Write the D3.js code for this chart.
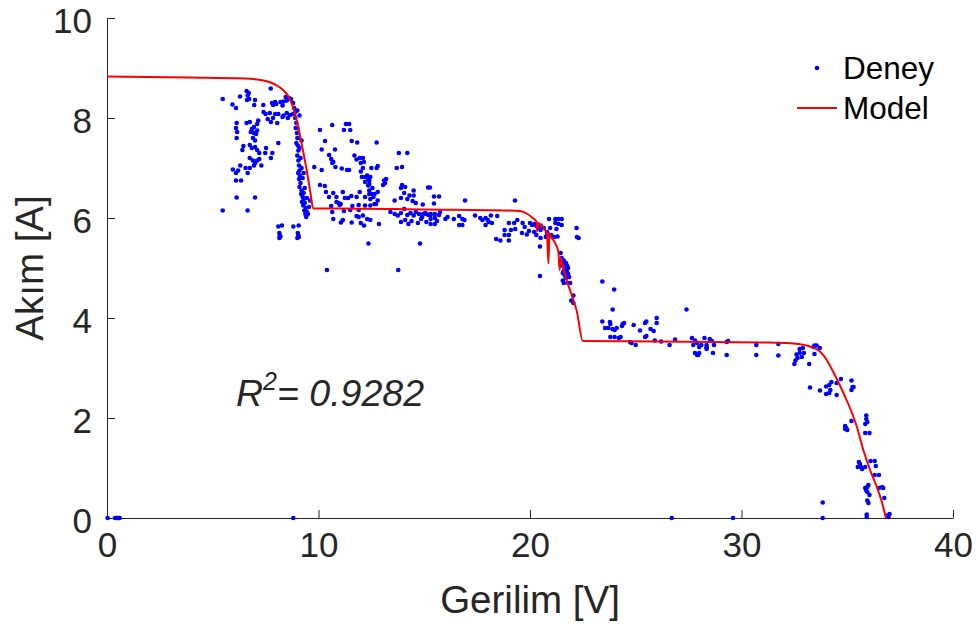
<!DOCTYPE html>
<html>
<head>
<meta charset="utf-8">
<script src="https://cdn.jsdelivr.net/npm/d3@7"></script>
<style>
  html, body { margin: 0; padding: 0; background: #ffffff; }
  svg { display: block; font-family: "Liberation Sans", Arial, Helvetica, sans-serif; }
</style>
</head>
<body>
<svg id="chart" width="976" height="633"></svg>
<script>
// ---- data ----
const xTicks = [0, 10, 20, 30, 40];
const yTicks = [0, 2, 4, 6, 8, 10];
const xLabel = "Gerilim [V]";
const yLabel = "Akım [A]";
const legendLabels = ["Deney", "Model"];
const r2Value = "0.9282";

// measured points (Gerilim V, Akım A)
const deneyZero = [[0.03,0],[0.38,0],[0.45,0],[0.5,0],[0.55,0],[0.6,0],[8.81,0],[26.7,0],[29.6,0],[33.84,0]];
const deneyStep1 = [
  [5.47,8.38],[5.93,8.27],[6.10,8.20],[6.29,8.43],[6.6,8.54],[6.7,8.5],[6.65,8.45],[6.72,8.38],[6.62,8.36],[7.0,8.36],
  [6.96,8.26],[7.39,8.26],[7.74,8.59],[7.8,8.3],[7.95,8.32],[7.85,8.26],[8.0,8.28],[8.2,8.32],[8.35,8.33],[8.5,8.35],
  [8.6,8.4],[8.45,8.42],[8.7,8.38],[8.3,8.25],
  [7.4,8.12],[7.5,8.08],[7.7,8.1],[7.95,8.08],[8.1,8.08],[8.35,8.05],[8.5,8.1],[8.65,8.06],[8.8,8.08],[8.9,8.12],
  [7.6,7.98],[7.75,7.92],[7.85,8.0],[8.05,7.9],[8.3,8.02],[8.55,8.0],
  [6.13,7.9],[6.1,7.8],[6.15,7.72],[6.13,7.6],
  [6.6,7.9],[6.75,7.92],[6.85,7.78],[6.95,7.82],[7.1,7.88],[7.15,7.95],[6.95,7.7],[7.1,7.75],[7.05,7.68],[6.8,7.72],
  [6.9,7.6],[7.0,7.55],
  [6.45,7.44],[6.4,7.36],[6.75,7.46],[6.85,7.4],[7.0,7.42],[7.1,7.36],[7.2,7.3],[7.52,7.4],[7.48,7.3],[7.75,7.2],
  [7.82,7.3],[8.1,7.5],
  [6.75,7.2],[6.9,7.15],[7.1,7.15],[7.2,7.18],
  [6.3,7.05],[6.2,6.95],[6.55,7.0],[6.65,6.9],[6.75,7.0],[6.95,7.05],[7.0,7.1],[7.3,7.05],
  [5.95,6.97],[6.1,6.9],
  [6.10,6.75],[6.34,6.75],[6.13,6.41],[7.0,6.41],[5.47,6.15],[6.65,6.15],
  [8.85,8.2],[8.9,8.0],[8.95,7.9],[8.92,7.8],[8.98,7.7],[9.0,7.6],[8.95,7.5],[9.02,7.45],[9.05,7.35],[9.0,7.25],
  [9.05,7.15],[9.08,7.05],[9.1,6.95],[9.04,6.9],[9.12,6.85],[9.08,6.78],[9.15,6.7],[9.1,6.62],[9.2,6.55],[9.18,6.48],
  [9.25,6.42],[9.3,6.38],[9.22,6.32],[9.35,6.3],[9.28,6.25],[9.4,6.2],[9.33,6.15],[9.45,6.12],[9.38,6.08],[9.5,6.08],
  [9.42,6.02],[9.55,6.22],[9.6,6.35],[9.3,6.5],[9.35,6.6],[9.25,6.8],[9.2,7.0],[9.15,7.2],[9.1,7.4],[9.05,7.6],
  [9.0,7.8],[9.1,8.05],[9.0,8.15],[8.8,8.3],[9.2,7.55],[9.3,6.9],[9.45,6.4],
  [8.1,5.83],[8.27,5.85],[8.15,5.7],[8.17,5.65],[8.15,5.6],[8.2,5.63],[8.81,5.83],[9.06,5.85],[9.02,5.7],[9.05,5.65],
  [9.0,5.6],[9.07,5.62]
];
const deneyStep2 = [
  [10.07,7.76],[10.65,7.86],[11.2,7.76],[11.3,7.88],[11.45,7.88],[11.5,7.76],[10.31,7.54],[11.57,7.54],[11.83,7.51],[12.75,7.51],
  [10.15,7.37],[10.78,7.37],[10.5,7.26],[10.6,7.18],[10.65,7.1],[10.8,7.02],[10.7,7.12],
  [9.8,7.02],[10.15,6.96],[11.1,6.99],[11.35,6.96],[11.45,6.96],
  [11.7,7.25],[11.8,7.17],[11.95,7.2],[12.1,7.2],[12.0,7.1],[12.15,7.12],[12.1,7.0],[12.0,6.93],
  [12.5,7.0],[12.75,7.0],[12.8,7.04],
  [12.3,6.85],[12.35,6.78],[12.2,6.82],[12.05,6.82],[12.4,6.75],[12.45,6.82],[12.2,6.72],[12.35,6.65],[12.4,6.68],[12.55,6.6],
  [12.4,6.55],[12.5,6.48],[12.65,6.48],[12.8,6.52],[13.1,6.75],[13.05,6.66],[13.2,6.78],[13.15,6.7],
  [13.7,7.0],[13.95,7.02],[14.2,7.3],[13.8,7.3],
  [13.95,6.66],[13.9,6.6],[14.1,6.62],[14.5,6.55],[14.3,6.45],[14.5,6.45],[15.18,6.61],
  [10.07,6.66],[10.3,6.64],
  [10.7,6.5],[10.85,6.42],[11.15,6.52],[10.35,6.52],[10.5,6.42],[10.85,6.32],[10.95,6.3],[11.25,6.4],[11.4,6.4],
  [11.55,6.44],[11.8,6.42],[11.95,6.52],[12.2,6.42],[12.4,6.48],[12.45,6.38],[12.6,6.42],[12.8,6.35],[12.72,6.28],
  [10.6,6.24],[11.0,6.26],[11.05,6.28],[11.6,6.24],[11.9,6.26],[12.2,6.25],[12.45,6.25],[12.65,6.28],
  [10.65,6.12],[11.2,6.14],[11.5,6.16],[11.9,6.16],
  [10.7,5.98],[11.15,5.96],[11.8,6.04],[11.9,6.02],[12.1,6.05],[12.3,5.98],[12.45,5.96],
  [11.06,5.91],[11.57,5.91],[12.0,5.9],[12.15,5.85],[12.86,5.88],
  [12.36,5.49],[14.8,5.49],[10.4,4.96],[13.77,4.96],
  [13.4,6.12],[13.6,6.08],[13.75,6.05],[13.9,6.1],[14.05,6.18],[14.2,6.06],[14.35,6.1],[14.5,6.05],[14.6,6.12],[14.75,6.08],
  [14.9,6.02],[15.05,6.1],[15.2,6.06],[15.3,6.08],[14.1,5.96],[14.4,5.94],[14.7,5.9],[14.85,5.98],[15.1,5.92],[13.9,5.92],
  [14.25,5.88],[13.6,6.35],[13.9,6.4],[14.2,6.38],[14.45,6.34],[14.6,6.3],[14.05,6.5],
  [15.27,6.61],[15.46,6.43],[15.7,6.43],[15.46,6.29],[14.93,6.27],[16.93,6.35],[19.29,6.35],
  [14.95,6.08],[15.1,6.08],[15.3,6.06],[15.5,6.08],[15.7,6.06],[15.75,6.12],
  [15.3,5.98],[15.5,6.0],[15.6,5.94],[15.5,5.88],[15.3,5.88],[16.0,5.98],[16.1,6.02],[16.4,5.98],
  [16.65,6.04],[16.8,5.98],[16.9,5.96],[16.65,5.86],[16.8,5.86],
  [17.4,6.05],[17.65,6.0],[17.75,5.96],[17.9,6.0],[18.0,5.96],[18.05,5.92],[18.2,5.9],[18.15,6.05],[18.45,6.04],[17.9,5.86],
  [19.0,5.9],[19.25,5.9],[19.4,5.96],[19.1,5.76],[19.3,5.78],[18.8,5.76],[18.8,5.66],[19.0,5.66],[19.0,5.55],[18.6,5.55],[18.4,5.58],
  [19.65,5.9],[19.75,5.82],[20.0,5.9],[20.1,5.86],[20.2,5.88],[20.3,5.84],[20.4,5.8],[20.5,5.76],[20.2,5.72],[20.3,5.66],
  [19.95,5.74],[19.85,5.67],[19.62,5.7],[20.5,5.85],[20.65,5.8],[20.8,5.72],[20.75,5.62],
  [20.47,5.43],[20.47,4.84],
  [20.9,5.98],[21.2,5.98],[21.35,5.98],[21.5,5.98],[21.2,5.9],[21.35,5.88],[21.5,5.86],[21.25,5.78],[20.95,5.8],
  [20.8,5.65],[21.0,5.66],[21.15,5.62],[21.3,5.63],[20.5,5.6],
  [22.2,5.8],[22.22,5.62],[22.3,5.6],
  [21.45,5.3],[21.5,5.2],[21.6,5.15],[21.65,5.08],[21.7,5.1],[21.75,5.05],[21.7,5.0],[21.6,4.95],[21.55,4.9],[21.75,4.92],
  [21.8,4.88],[21.85,4.82],[21.7,4.8],[21.55,4.75],[21.6,4.7],[21.8,4.7],[21.9,4.7],[22.05,4.45],[21.95,4.35],[22.05,4.3],
  [21.5,5.05],[21.65,4.85],[21.8,5.0]
];
const deneyStep3 = [
  [23.42,4.73],[23.98,4.57],[23.91,4.17],[23.42,3.93],[23.78,3.92],[23.8,3.88],[23.9,3.78],[23.7,3.8],[23.55,3.8],[24.0,3.76],
  [24.1,3.8],[24.35,3.84],[24.45,3.9],[24.38,3.88],
  [23.8,3.62],[24.0,3.62],[24.2,3.6],[24.28,3.62],[24.9,3.86],[25.2,3.75],[25.44,3.9],[25.5,3.93],[25.7,3.78],[25.85,3.74],
  [25.99,4.0],[25.99,3.9],[25.44,3.62],[25.5,3.64],
  [24.73,3.52],[24.8,3.5],[25.0,3.46],[25.9,3.55],[26.2,3.53],[26.6,3.46],[26.86,3.57],[27.4,4.17],
  [27.66,3.6],[27.8,3.55],[27.72,3.46],[27.9,3.5],[27.8,3.3],[27.95,3.26],[28.0,3.3],[27.9,3.26],
  [28.25,3.6],[28.35,3.46],[28.35,3.42],[28.35,3.4],[28.35,3.38],[28.1,3.46],[28.0,3.42],
  [28.6,3.54],[28.7,3.46],[28.65,3.3],[28.5,3.58],
  [29.3,3.52],[29.37,3.54],[29.3,3.26],
  [30.7,3.46],[30.7,3.26],[31.74,3.48],[31.74,3.25],
  [32.5,3.08],[32.55,3.15],[32.65,3.2],[32.6,3.27],[32.75,3.3],[32.75,3.38],[32.85,3.22],[32.9,3.4],[32.95,3.3],[33.2,3.08],
  [33.4,3.42],[33.45,3.45],[33.55,3.45],[33.45,3.28],[33.7,3.4],
  [33.24,2.61],[33.71,2.55],[34.0,2.63],[34.15,2.66],[34.25,2.72],[34.2,2.56],[34.15,2.5],[34.0,2.48],[34.5,2.46],[34.5,2.7],[34.7,2.78],
  [35.2,2.75],[35.25,2.62],[35.2,2.56],[35.3,2.62],
  [34.9,1.84],[34.95,1.8],[35.0,1.76],[34.9,1.78],[35.2,1.94],
  [35.9,2.05],[35.9,1.98],[35.95,1.92],[35.85,1.88],[36.05,1.7],[35.85,1.7],
  [35.55,1.12],[35.6,1.08],[35.65,1.02],[35.5,1.02],[35.7,0.98],[35.85,1.02],[36.1,1.14],[36.3,1.14],[36.35,1.04],[36.3,0.86],[36.5,0.86],
  [35.85,0.6],[35.9,0.55],[35.95,0.62],[36.0,0.66],[35.95,0.52],[36.05,0.46],[35.95,0.35],[36.0,0.3],[36.5,0.6],[36.65,0.62],
  [36.7,0.6],[36.75,0.4],
  [33.84,0.31],[35.92,0.02],[35.92,0.07],[36.88,0.05],[37.0,0.08],[36.95,0.02]
];

// fitted model curve (Gerilim V, Akım A)
const modelV = [0,3.9,6.5,7.1,7.5,7.8,8.1,8.35,8.55,8.73,8.97,9.2,9.44,9.62,9.75,11,15,19.0,19.53,19.84,20.16,20.3,20.34,20.38,20.63,20.8,20.87,20.92,20.97,21.1,21.34,21.4,21.45,21.5,21.65,21.73,21.89,22.05,22.2,22.5,26,31,32.0,32.7,33.24,33.71,34.03,34.34,34.6,34.85,35.13,35.45,35.76,36.08,36.39,36.63,36.83];
const modelA = [8.83,8.81,8.79,8.77,8.74,8.7,8.63,8.55,8.45,8.29,7.96,7.49,6.96,6.5,6.19,6.19,6.17,6.15,6.14,6.09,5.99,5.93,5.73,5.9,5.79,5.7,5.09,5.7,5.64,5.56,5.33,4.96,5.2,5.13,4.89,4.76,4.56,4.36,4.16,3.54,3.53,3.51,3.5,3.48,3.43,3.33,3.16,2.92,2.7,2.47,2.2,1.83,1.36,0.96,0.63,0.33,0.0];

// ---- drawing ----
const svg = d3.select("#chart");
const margin = {left: 107, right: 23, top: 18, bottom: 115};
const W = 976, H = 633;
const x = d3.scaleLinear().domain([0, 40]).range([margin.left, W - margin.right]);
const y = d3.scaleLinear().domain([0, 10]).range([H - margin.bottom, margin.top]);
const axisColor = "#262626";
const tickFont = 35;

// axes
const xAxis = d3.axisBottom(x).tickValues(xTicks).tickSizeInner(-8).tickSizeOuter(0).tickPadding(14);
const yAxis = d3.axisLeft(y).tickValues(yTicks).tickSizeInner(-8).tickSizeOuter(0).tickPadding(15);

const gx = svg.append("g").attr("transform", `translate(0,${y(0)})`).call(xAxis);
const gy = svg.append("g").attr("transform", `translate(${x(0)},0)`).call(yAxis);
[gx, gy].forEach(g => {
  g.select(".domain").attr("stroke", axisColor).attr("stroke-width", 1);
  g.selectAll(".tick line").attr("stroke", axisColor).attr("stroke-width", 1);
  g.selectAll(".tick text").attr("fill", axisColor).attr("font-size", tickFont)
    .attr("font-family", "Liberation Sans, Arial, sans-serif");
});
gx.selectAll(".tick text").attr("dy", "0.71em");
gy.selectAll(".tick text").attr("dy", "0.4em");

// axis labels
svg.append("text").attr("x", (x(0) + x(40)) / 2).attr("y", 613)
  .attr("text-anchor", "middle").attr("font-size", 38.5).attr("fill", axisColor).text(xLabel);
svg.append("text").attr("transform", `translate(43,${(y(0) + y(10)) / 2}) rotate(-90)`)
  .attr("text-anchor", "middle").attr("font-size", 38.5).attr("fill", axisColor).text(yLabel);

// data points
const allDeney = deneyZero.concat(deneyStep1, deneyStep2, deneyStep3);
svg.append("g").selectAll("circle").data(allDeney).join("circle")
  .attr("cx", d => x(d[0])).attr("cy", d => y(d[1])).attr("r", 2.3).attr("fill", "#0000ff");

// model line
const modelPts = modelV.map((v, i) => [v, modelA[i]]);
svg.append("path").datum(modelPts)
  .attr("d", d3.line().x(d => x(d[0])).y(d => y(d[1])).curve(d3.curveMonotoneX))
  .attr("fill", "none").attr("stroke", "#ff0000").attr("stroke-width", 2);

// R^2 annotation
const rt = svg.append("text").attr("x", 236).attr("y", 406).attr("font-size", 37.5)
  .attr("font-style", "italic").attr("fill", axisColor);
rt.append("tspan").text("R");
rt.append("tspan").attr("font-size", 25).attr("dy", -16).text("2");
rt.append("tspan").attr("dy", 16).text("= " + r2Value);

// legend
const lg = svg.append("g");
lg.append("circle").attr("cx", 817).attr("cy", 68).attr("r", 2.3).attr("fill", "#0000ff");
lg.append("text").attr("x", 843).attr("y", 68).attr("dy", "0.36em").attr("font-size", 31.5).attr("fill", "#000").text(legendLabels[0]);
lg.append("line").attr("x1", 797).attr("x2", 837).attr("y1", 108).attr("y2", 108).attr("stroke", "#ff0000").attr("stroke-width", 2);
lg.append("text").attr("x", 843).attr("y", 108).attr("dy", "0.36em").attr("font-size", 31.5).attr("fill", "#000").text(legendLabels[1]);
</script>
</body>
</html>
